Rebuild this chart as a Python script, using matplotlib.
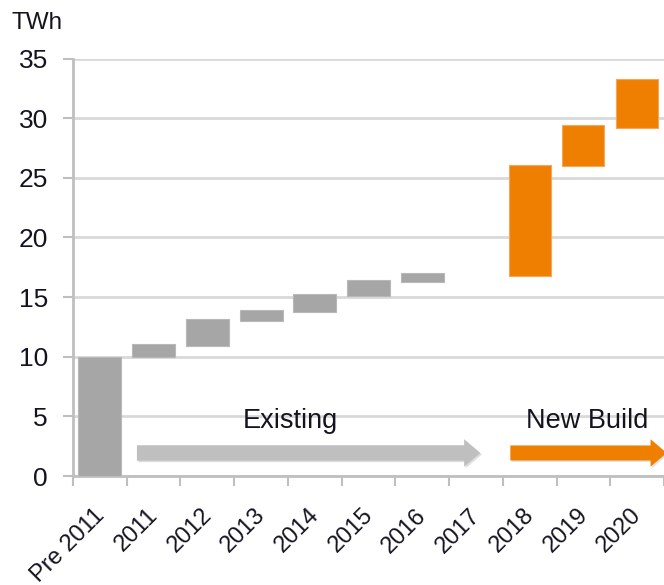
import matplotlib
matplotlib.use("Agg")
import matplotlib.pyplot as plt
import matplotlib.transforms as mtransforms
from matplotlib.patches import FancyArrow
import numpy as np

plt.rcParams['font.family'] = ['Liberation Sans', 'DejaVu Sans']

categories = ["Pre 2011", "2011", "2012", "2013", "2014", "2015", "2016",
              "2017", "2018", "2019", "2020"]
bar_bottoms = [0.0, 10.0, 10.9, 13.0, 13.75, 15.05, 16.25, np.nan, 16.8, 26.0, 29.15]
bar_tops = [10.0, 11.05, 13.15, 13.9, 15.25, 16.4, 17.05, np.nan, 26.1, 29.4, 33.3]
groups = ["existing"] * 8 + ["new"] * 3
group_labels = {"existing": "Existing", "new": "New Build"}
y_ticks = [0, 5, 10, 15, 20, 25, 30, 35]
unit_label = "TWh"

GRAY = "#A6A6A6"
ORANGE = "#EF7F00"
ARROW_GRAY = "#BFBFBF"
GRID = "#D9D9D9"
AXIS = "#BFBFBF"
TXT = "#141420"

W, H = 664, 585
fig = plt.figure(figsize=(W / 100, H / 100), dpi=100)
ax = fig.add_axes([73 / W, 1 - 476 / H, 591 / W, (476 - 58.5) / H])

x = np.arange(len(categories))
for xi, b, t, g in zip(x, bar_bottoms, bar_tops, groups):
    if np.isnan(b) or np.isnan(t):
        continue
    if g == "existing":
        ax.bar(xi, t - b, bottom=b, width=0.8, color=GRAY, edgecolor="#B8B8B8",
               linewidth=0.8, zorder=3)
    else:
        ax.bar(xi, t - b, bottom=b, width=0.78, color=ORANGE, edgecolor="#F6A55A",
               linewidth=0.8, zorder=3)

ax.set_xlim(-0.5, len(categories) - 0.5)
ax.set_ylim(0, 35)
ax.set_yticks(y_ticks)
ax.set_yticklabels([str(v) for v in y_ticks], fontsize=19, color=TXT)
ax.yaxis.grid(True, color=GRID, linewidth=2, zorder=0)
ax.set_axisbelow(True)

# x ticks at category boundaries (minor), labels at centers (major)
ax.set_xticks(np.arange(-0.5, len(categories), 1.0), minor=True)
ax.set_xticks(x)
ax.set_xticklabels(categories, fontsize=17, rotation=45, ha="right",
                   rotation_mode="anchor", va="center", color=TXT)
ax.tick_params(axis="x", which="major", length=0, pad=26)
ax.tick_params(axis="x", which="minor", length=7.5, width=1.5, color=AXIS)
ax.tick_params(axis="y", length=7.5, width=1.5, color=AXIS, pad=10.5)
offset = mtransforms.ScaledTranslation(1 / 100, 0, fig.dpi_scale_trans)
for lbl in ax.get_xticklabels():
    lbl.set_transform(lbl.get_transform() + offset)

for s in ["top", "right"]:
    ax.spines[s].set_visible(False)
for s in ["left", "bottom"]:
    ax.spines[s].set_color(AXIS)
    ax.spines[s].set_linewidth(2)

# group arrows
ay = 1.93
shadow = FancyArrow(0.72, ay - 0.12, 7.08 - 0.69, 0, width=1.3, head_width=2.3,
                    head_length=0.3, length_includes_head=True,
                    color="#A0A0A0", alpha=0.35, linewidth=0, zorder=3)
ax.add_patch(shadow)
arr1 = FancyArrow(0.69, ay, 7.08 - 0.69, 0, width=1.3, head_width=2.3,
                  head_length=0.3, length_includes_head=True,
                  color=ARROW_GRAY, linewidth=0, zorder=4)
ax.add_patch(arr1)
shadow2 = FancyArrow(7.67, ay - 0.12, 10.55 - 7.64, 0, width=1.26, head_width=2.3,
                     head_length=0.3, length_includes_head=True,
                     color="#A0A0A0", alpha=0.3, linewidth=0, zorder=3)
ax.add_patch(shadow2)
arr2 = FancyArrow(7.64, ay, 10.55 - 7.64, 0, width=1.26, head_width=2.3,
                  head_length=0.3, length_includes_head=True,
                  color=ORANGE, linewidth=0, zorder=4)
ax.add_patch(arr2)

ax.text(3.54, 4.6, group_labels["existing"], ha="center", va="center",
        fontsize=19.5, color=TXT, zorder=5)
ax.text(9.07, 4.6, group_labels["new"], ha="center", va="center",
        fontsize=19.5, color=TXT, zorder=5)

fig.text(12 / W, 1 - 23 / H, unit_label, ha="left", va="center", fontsize=17.5,
         color=TXT)

fig.savefig("out.png", dpi=100)
